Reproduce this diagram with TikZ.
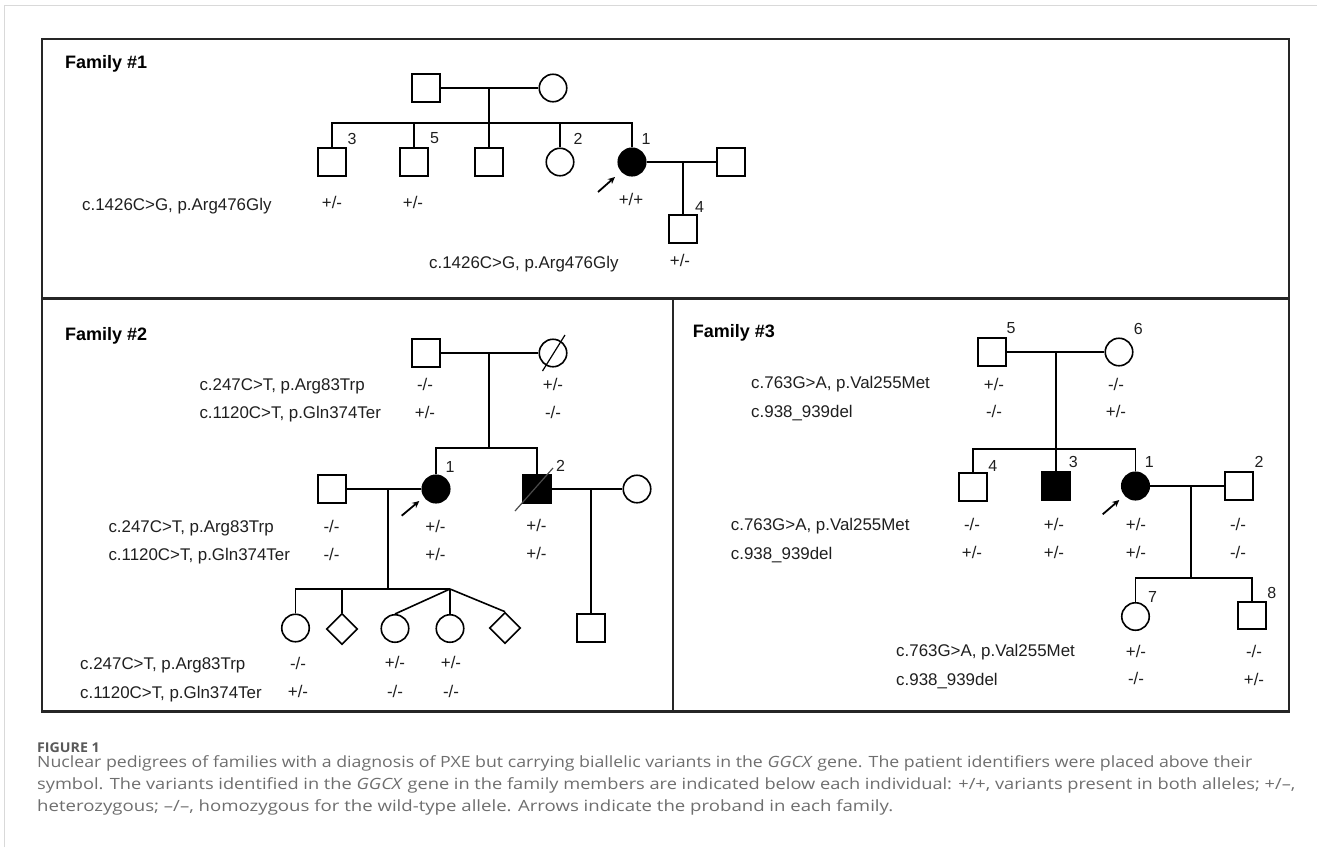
\documentclass[tikz,border=0pt]{standalone}
\usepackage{fontspec}
\setmainfont{Liberation Sans}
\newfontfamily\capfont{Open Sans}
\usetikzlibrary{shapes.geometric,arrows.meta}
\begin{document}
\begin{tikzpicture}[x=1pt,y=-1pt,
  sq/.style={draw, rectangle, minimum size=27.5pt, inner sep=0pt, line width=1.6pt},
  ci/.style={draw, circle, minimum size=27.5pt, inner sep=0pt, line width=1.6pt},
  dm/.style={draw, diamond, minimum size=31pt, inner sep=0pt, line width=1.6pt},
  aff/.style={fill=black},
  var/.style={anchor=base west, inner sep=0pt, text=black!88, font=\fontsize{16.9}{18}\selectfont},
  gt/.style={anchor=base, inner sep=0pt, text=black!88, font=\fontsize{16.9}{18}\selectfont},
  idn/.style={inner sep=0pt, text=black!88, font=\fontsize{16}{17}\selectfont},
  fam/.style={anchor=base west, inner sep=0pt, font=\bfseries\fontsize{18}{20}\selectfont},
  boxframe/.style={line width=2.2pt, draw=black!85},
  link/.style={line width=1.6pt},
  slash/.style={line width=1.2pt},
  proband/.style={line width=1.8pt, -{Stealth[length=7pt,width=6.5pt]}},
  captext/.style={anchor=base west, inner sep=0pt, text=black!57, font=\capfont\fontsize{15.5}{18}\selectfont},
  captitle/.style={anchor=base west, inner sep=0pt, text=black!65, font=\capfont\bfseries\fontsize{13.5}{16}\selectfont},
]
\useasboundingbox (0,0) rectangle (1326,847);
% page edge
\draw[black!15, line width=1pt] (4,847) -- (4,5) -- (1317,5);
% frames
\draw[boxframe] (42,39) rectangle (1289,711.5);
\draw[boxframe] (42,298.5) -- (1289,298.5);
\draw[boxframe] (673,298.5) -- (673,711.5);

% ================= Family 1
\node[fam] (t1) at (65,68) {Family \#1};
\node[sq] (a1) at (426,88) {};
\node[ci] (a2) at (553,88) {};
\coordinate (am) at (489,88);
\coordinate (as) at (489,123);
\node[sq] (a3) at (332,162) {};
\node[sq] (a5) at (414,162) {};
\node[sq] (ax) at (489,162) {};
\node[ci] (a6) at (560,162) {};
\node[ci,aff] (ap) at (632,162) {};
\node[sq] (asp) at (731,162) {};
\coordinate (apm) at (683,162);
\node[sq] (a4) at (683,229) {};
\draw[link] (a1) -- (a2);
\draw[link] (am) -- (as);
\draw[link] (a3.north) |- (as) -| (ap.north);
\draw[link] (a5.north) -- (a5.north |- as);
\draw[link] (ax.north) -- (as);
\draw[link] (a6.north) -- (a6.north |- as);
\draw[link] (ap) -- (asp);
\draw[link] (apm) -- (a4.north);
\node[idn] (ia3) at (352,138.5) {3};
\node[idn] (ia5) at (434.5,138.5) {5};
\node[idn] (ia6) at (578,138.5) {2};
\node[idn] (iap) at (646,138.5) {1};
\node[idn] (ia4) at (699.5,206.5) {4};
\coordinate (ar1s) at (598,192);
\coordinate (ar1e) at (615,177);
\draw[proband] (ar1s) -- (ar1e);
\node[var] (va1) at (82,210) {c.1426C>G, p.Arg476Gly};
\node[gt] (ga3) at (332,208) {+/-};
\node[gt] (ga5) at (413,208) {+/-};
\node[gt] (gap) at (631,205) {+/+};
\node[var] (va2) at (429,268) {c.1426C>G, p.Arg476Gly};
\node[gt] (ga4) at (680,266) {+/-};

% ================= Family 2
\node[fam] (t2) at (65,340) {Family \#2};
\node[sq] (b1) at (426,353) {};
\node[ci] (b2) at (553,353) {};
\draw[slash] ([shift={(-10.5,18)}]b2.center) -- ([shift={(12,-18)}]b2.center);
\coordinate (bm) at (489,353);
\coordinate (bs) at (489,448);
\node[ci,aff] (bp) at (436,489) {};
\node[sq,aff] (b3) at (537,489) {};
\node[sq] (bsp) at (332,489) {};
\coordinate (bpm) at (388,489);
\coordinate (bps) at (388,589);
\node[ci] (b5) at (637,489) {};
\coordinate (b3m) at (591,489);
\node[sq] (b6) at (591,628) {};
\node[ci] (k1) at (295.5,628) {};
\node[dm] (k2) at (342,629) {};
\coordinate (tw) at (450,589);
\node[ci] (k3) at (395,628.5) {};
\node[ci] (k4) at (450,628.5) {};
\node[dm] (k5) at (505,628) {};
\draw[link] (b1) -- (b2);
\draw[link] (bm) -- (bs);
\draw[link] (bp.north) |- (bs) -| (b3.north);
\draw[link] (bsp) -- (bp);
\draw[link] (bpm) -- (bps);
\draw[link] (k1.north) |- (tw);
\draw[link] (k2.north) -- (k2.north |- tw);
\draw[link] (tw) -- (k3.north);
\draw[link] (tw) -- (k4.north);
\draw[link] (tw) -- (k5.north);
\draw[link] (b3) -- (b5);
\draw[link] (b3m) -- (b6.north);
\draw[slash, black!70] ([shift={(-22,22)}]b3.center) -- ([shift={(16,-21)}]b3.center);
\node[idn] (ibp) at (450,467) {1};
\node[idn] (ib3) at (560.5,466) {2};
\coordinate (ar2s) at (401.7,515.7);
\coordinate (ar2e) at (419.3,501);
\draw[proband] (ar2s) -- (ar2e);
\node[var] (vb1) at (199.3,390) {c.247C>T, p.Arg83Trp};
\node[var] (vb2) at (199.3,418) {c.1120C>T, p.Gln374Ter};
\node[gt] at (425,390) {-/-};
\node[gt] at (425,418) {+/-};
\node[gt] at (553,390) {+/-};
\node[gt] at (553,418) {-/-};
\node[var] (vb3) at (108.3,532) {c.247C>T, p.Arg83Trp};
\node[var] (vb4) at (108.3,560.5) {c.1120C>T, p.Gln374Ter};
\node[gt] at (331.5,532) {-/-};
\node[gt] at (331.5,560.5) {-/-};
\node[gt] at (435.5,532) {+/-};
\node[gt] at (435.5,560.5) {+/-};
\node[gt] at (536.5,531) {+/-};
\node[gt] at (536.5,559) {+/-};
\node[var] (vb5) at (80,669.5) {c.247C>T, p.Arg83Trp};
\node[var] (vb6) at (80,698) {c.1120C>T, p.Gln374Ter};
\node[gt] at (298,669) {-/-};
\node[gt] at (298,697.5) {+/-};
\node[gt] at (395,668) {+/-};
\node[gt] at (395,697) {-/-};
\node[gt] at (451,668) {+/-};
\node[gt] at (451,697) {-/-};

% ================= Family 3
\node[fam] (t3) at (692.7,337.7) {Family \#3};
\node[sq] (c5) at (992,352) {};
\node[ci] (c6) at (1119,352) {};
\coordinate (cm) at (1056,352);
\coordinate (cs) at (1056,449);
\node[sq] (c4) at (973,487) {};
\node[sq,aff] (c3) at (1056,486) {};
\node[ci,aff] (c1) at (1135.5,486) {};
\node[sq] (c2) at (1239,486) {};
\coordinate (c1m) at (1191,486);
\coordinate (c1s) at (1191,578);
\node[ci] (c7) at (1135.5,616.5) {};
\node[sq] (c8) at (1252,615.5) {};
\draw[link] (c5) -- (c6);
\draw[link] (cm) -- (cs);
\draw[link] (c4.north) |- (cs) -| (c1.north);
\draw[link] (c3.north) -- (cs);
\draw[link] (c1) -- (c2);
\draw[link] (c1m) -- (c1s);
\draw[link] (c7.north) |- (c1s) -| (c8.north);
\node[idn] at (1011,328) {5};
\node[idn] at (1138.3,329) {6};
\node[idn] at (992.8,466) {4};
\node[idn] at (1073.3,461.7) {3};
\node[idn] at (1149.3,462) {1};
\node[idn] at (1259,462) {2};
\node[idn] at (1152.5,596.7) {7};
\node[idn] at (1271.8,593) {8};
\coordinate (ar3s) at (1102.7,514.3);
\coordinate (ar3e) at (1119.3,500);
\draw[proband] (ar3s) -- (ar3e);
\node[var] at (751,388.5) {c.763G>A, p.Val255Met};
\node[var] at (751,417.5) {c.938\_939del};
\node[gt] at (994,390) {+/-};
\node[gt] at (994,417) {-/-};
\node[gt] at (1116,390) {-/-};
\node[gt] at (1116,417) {+/-};
\node[var] at (730.7,530) {c.763G>A, p.Val255Met};
\node[var] at (730.7,559) {c.938\_939del};
\node[gt] at (972,530) {-/-};
\node[gt] at (972,558.5) {+/-};
\node[gt] at (1054,530) {+/-};
\node[gt] at (1054,558.5) {+/-};
\node[gt] at (1136,530) {+/-};
\node[gt] at (1136,558.5) {+/-};
\node[gt] at (1238,530) {-/-};
\node[gt] at (1238,558.5) {-/-};
\node[var] at (896,656.5) {c.763G>A, p.Val255Met};
\node[var] at (896,685.5) {c.938\_939del};
\node[gt] at (1136,657) {+/-};
\node[gt] at (1136,684.5) {-/-};
\node[gt] at (1254,657) {-/-};
\node[gt] at (1254,685.5) {+/-};

% ================= Caption
\node[captitle] (fig) at (37,752) {\resizebox{62.6pt}{\height}{FIGURE 1}};
\node[captext] (cl1) at (37,767.3) {\resizebox{1215pt}{\height}{Nuclear pedigrees of families with a diagnosis of PXE but carrying biallelic variants in the \textit{GGCX} gene. The patient identifiers were placed above their}};
\node[captext] (cl2) at (37,789.3) {\resizebox{1258pt}{\height}{symbol. The variants identified in the \textit{GGCX} gene in the family members are indicated below each individual: +/+, variants present in both alleles; +/–,}};
\node[captext] (cl3) at (37,811) {\resizebox{856pt}{\height}{heterozygous; –/–, homozygous for the wild-type allele. Arrows indicate the proband in each family.}};
\end{tikzpicture}
\end{document}
